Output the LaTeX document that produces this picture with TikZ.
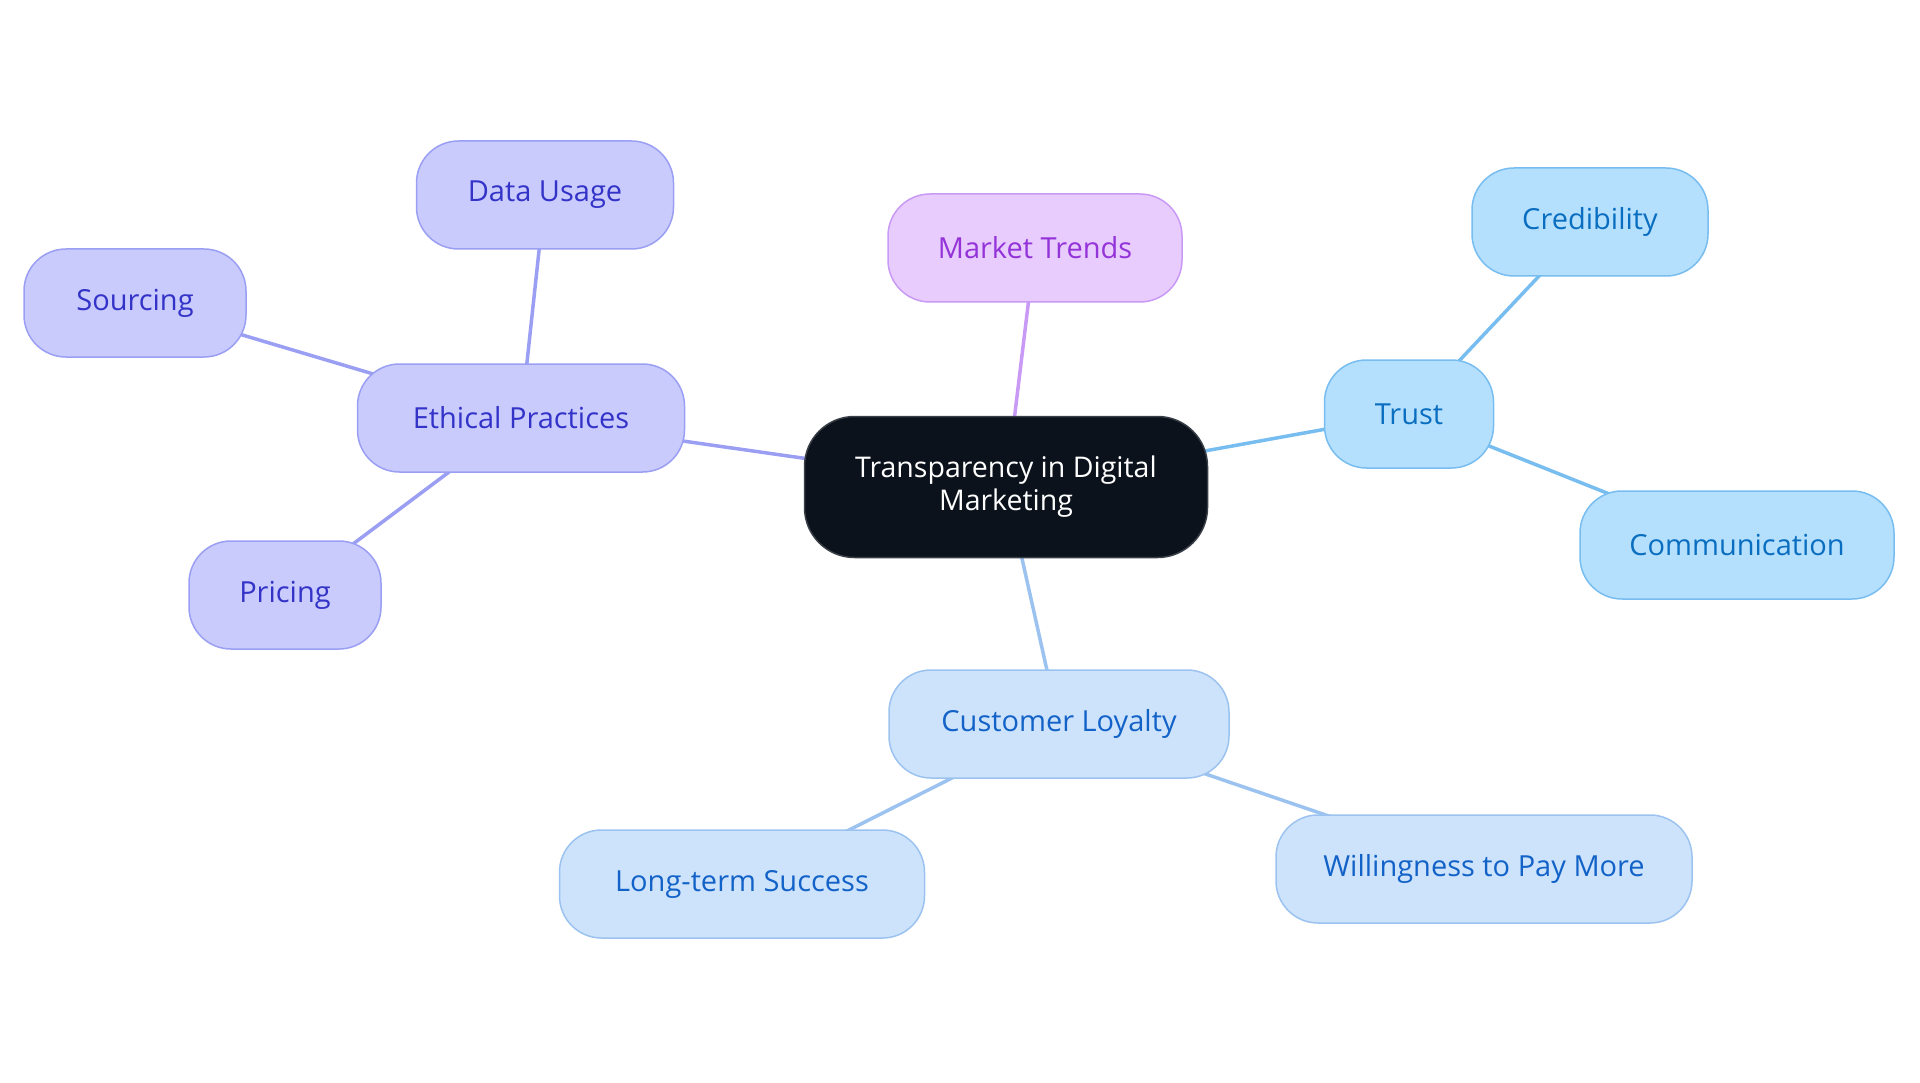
\documentclass[tikz,border=0pt]{standalone}
\usepackage{fontspec}
\setmainfont{Open Sans}
\usetikzlibrary{backgrounds}
\definecolor{cfill}{HTML}{0B121C}
\definecolor{cdraw}{HTML}{3A3F47}
\definecolor{mfill}{HTML}{E8CCFE}
\definecolor{mdraw}{HTML}{C99AF5}
\definecolor{mtext}{HTML}{9333D8}
\definecolor{efill}{HTML}{C9CBFD}
\definecolor{edraw}{HTML}{9A9FF3}
\definecolor{etext}{HTML}{3333C8}
\definecolor{tfill}{HTML}{B4E0FE}
\definecolor{tdraw}{HTML}{78BDF0}
\definecolor{ttext}{HTML}{0A6EC0}
\definecolor{lfill}{HTML}{CDE3FB}
\definecolor{ldraw}{HTML}{9CC3F0}
\definecolor{ltext}{HTML}{1262C8}
\tikzset{
  x=1pt,y=-1pt,
  base/.style={rounded corners=42pt,minimum height=108pt,line width=1.5pt,font=\fontsize{29}{34}\selectfont,inner xsep=0pt,align=center},
  central/.style={base,fill=cfill,draw=cdraw,text=white,minimum height=141pt,rounded corners=50pt,font=\fontsize{28.5}{33}\selectfont},
  mk/.style={base,fill=mfill,draw=mdraw,text=mtext},
  et/.style={base,fill=efill,draw=edraw,text=etext},
  tr/.style={base,fill=tfill,draw=tdraw,text=ttext},
  lo/.style={base,fill=lfill,draw=ldraw,text=ltext},
  conn/.style={line width=3.5pt}
}
\begin{document}
\begin{tikzpicture}
\useasboundingbox (0,0) rectangle (1920,1083);
\node[central,minimum width=403pt] (c) at (1006,487) {Transparency in Digital\\Marketing};
\node[mk,minimum width=294pt] (mt) at (1035,248) {Market Trends};
\node[tr,minimum width=169pt] (tr) at (1409,414) {Trust};
\node[tr,minimum width=236pt] (cr) at (1590,222) {Credibility};
\node[tr,minimum width=314pt] (co) at (1737,545) {Communication};
\node[lo,minimum width=340pt] (cl) at (1059,724) {Customer Loyalty};
\node[lo,minimum width=365pt] (ls) at (742,884) {Long-term Success};
\node[lo,minimum width=416pt] (wp) at (1484,869) {Willingness to Pay More};
\node[et,minimum width=327pt] (ep) at (521,418) {Ethical Practices};
\node[et,minimum width=257pt] (du) at (545,195) {Data Usage};
\node[et,minimum width=222pt] (so) at (135,303) {Sourcing};
\node[et,minimum width=192pt] (pr) at (285,595) {Pricing};
\begin{scope}[on background layer]
\draw[conn,draw=mdraw] (c.center) -- (mt.center);
\draw[conn,draw=tdraw] (c.center) -- (tr.center);
\draw[conn,draw=tdraw] (tr.center) -- (cr.center);
\draw[conn,draw=tdraw] (tr.center) -- (co.center);
\draw[conn,draw=ldraw] (c.center) -- (cl.center);
\draw[conn,draw=ldraw] (cl.center) -- (ls.center);
\draw[conn,draw=ldraw] (cl.center) -- (wp.center);
\draw[conn,draw=edraw] (c.center) -- (ep.center);
\draw[conn,draw=edraw] (ep.center) -- (du.center);
\draw[conn,draw=edraw] (ep.center) -- (so.center);
\draw[conn,draw=edraw] (ep.center) -- (pr.center);
\end{scope}
\end{tikzpicture}
\end{document}
